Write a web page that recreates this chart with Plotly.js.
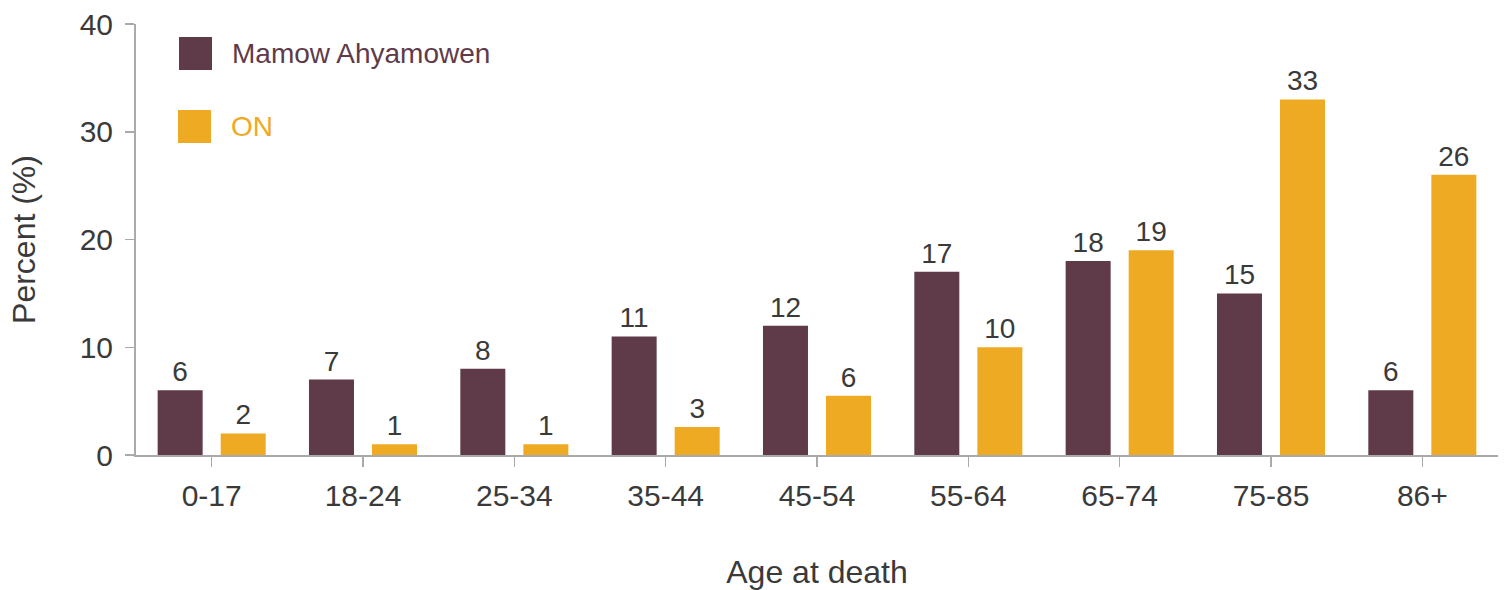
<!DOCTYPE html>
<html>
<head>
<meta charset="utf-8">
<script src="https://cdn.plot.ly/plotly-3.0.1.min.js"></script>
<style>
  html, body { margin: 0; padding: 0; background: #ffffff; }
  #chart { width: 1505px; height: 590px; }
</style>
</head>
<body>
<div id="chart"></div>
<script>
// Age groups at death
const ageGroups = ['0-17', '18-24', '25-34', '35-44', '45-54', '55-64', '65-74', '75-85', '86+'];

// Percent of deaths in each age group
const mamowValues = [6, 7, 8, 11, 12, 17, 18, 15, 6];
const onValues = [2, 1, 1, 2.6, 5.5, 10, 19, 33, 26];

const seriesNames = ['Mamow Ahyamowen', 'ON'];
const seriesColors = ['#5f3b4a', '#eeaa22'];

const yTicks = [0, 10, 20, 30, 40];

const textColor = '#3a3a3a';
const axisColor = '#aaaaaa';
const fontFamily = '"Liberation Sans", Arial, Helvetica, sans-serif';

function barTrace(name, values, color) {
  return {
    type: 'bar',
    name: name,
    x: ageGroups,
    y: values,
    marker: { color: color },
    text: values,
    texttemplate: '%{y:.0f}',
    textposition: 'outside',
    textfont: { family: fontFamily, size: 28, color: textColor },
    cliponaxis: false,
    hoverinfo: 'x+y'
  };
}

const data = [
  barTrace(seriesNames[0], mamowValues, seriesColors[0]),
  barTrace(seriesNames[1], onValues, seriesColors[1])
];

// Legend drawn as colour swatches with text in the series colour
const legendSwatches = [
  { x0: 179, y0: 37 },
  { x0: 178, y0: 110 }
];
const plotLeft = 136, plotRight = 1498, plotTop = 24, plotBottom = 455;
const px = v => (v - plotLeft) / (plotRight - plotLeft);
const py = v => (plotBottom - v) / (plotBottom - plotTop);

const shapes = legendSwatches.map((s, i) => ({
  type: 'rect', xref: 'paper', yref: 'paper',
  x0: px(s.x0), x1: px(s.x0 + 33), y0: py(s.y0 + 33), y1: py(s.y0),
  fillcolor: seriesColors[i], line: { width: 0 }
}));

const annotations = legendSwatches.map((s, i) => ({
  xref: 'paper', yref: 'paper',
  x: px(s.x0 + 51), y: py(s.y0 + 16.5),
  xanchor: 'left', yanchor: 'middle',
  text: seriesNames[i], showarrow: false,
  font: { family: fontFamily, size: 28, color: seriesColors[i] }
}));

const layout = {
  width: 1505,
  height: 590,
  margin: { l: plotLeft, r: 1505 - plotRight, t: plotTop, b: 590 - plotBottom },
  paper_bgcolor: '#ffffff',
  plot_bgcolor: '#ffffff',
  font: { family: fontFamily, size: 28, color: textColor },
  showlegend: false,
  barmode: 'group',
  bargap: 0.167,
  bargroupgap: 0.286,
  xaxis: {
    type: 'category',
    showline: true, linecolor: axisColor, linewidth: 1.5,
    ticks: 'outside', ticklen: 10, tickwidth: 1.5, tickcolor: axisColor,
    ticklabelstandoff: 3,
    tickfont: { family: fontFamily, size: 30, color: textColor },
    showgrid: false, zeroline: false,
    title: { text: 'Age at death', standoff: 53, font: { family: fontFamily, size: 32, color: textColor } }
  },
  yaxis: {
    range: [0, 40],
    tickvals: yTicks,
    showline: true, linecolor: axisColor, linewidth: 2,
    ticks: 'outside', ticklen: 9, tickwidth: 1.5, tickcolor: axisColor,
    ticklabelstandoff: 6,
    tickfont: { family: fontFamily, size: 30, color: textColor },
    showgrid: false, zeroline: false,
    title: { text: 'Percent (%)', standoff: 34, font: { family: fontFamily, size: 32, color: textColor } }
  },
  shapes: shapes,
  annotations: annotations
};

Plotly.newPlot('chart', data, layout, { displayModeBar: false, staticPlot: true });
</script>
</body>
</html>
